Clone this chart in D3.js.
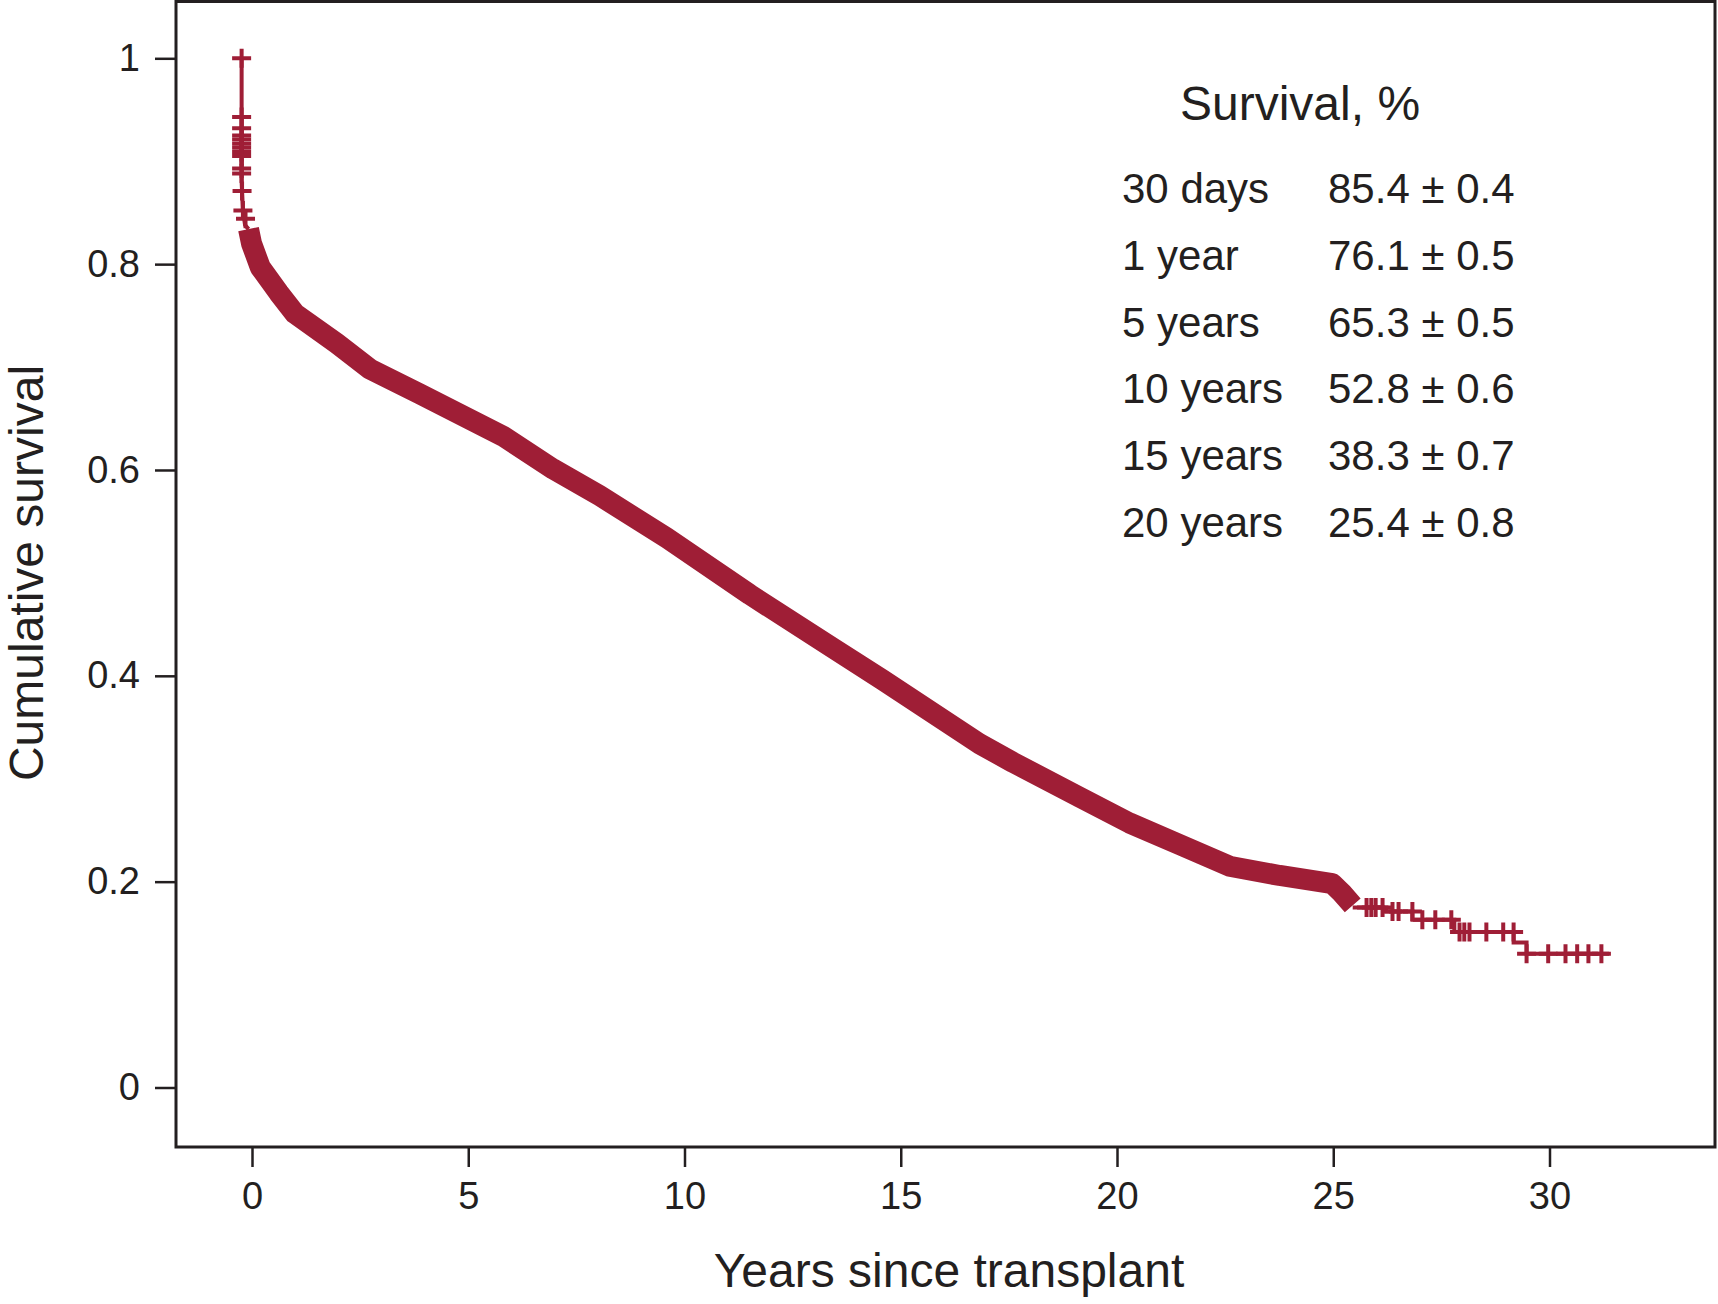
<!DOCTYPE html>
<html>
<head>
<meta charset="utf-8">
<script src="https://cdn.jsdelivr.net/npm/d3@7"></script>
<style>
  body { margin: 0; background: #fff; }
  text { font-family: "Liberation Sans", Arial, Helvetica, sans-serif; fill: #231f20; }
  .axis line { stroke: #231f20; stroke-width: 2.5; }
  .axis path { display: none; }
  .axis text { font-size: 38px; }
</style>
</head>
<body>
<script>
const width = 1718, height = 1304;
const frame = {left: 176, right: 1715, top: 1.5, bottom: 1147};
const curveColor = "#9f1e36";

// x / y ticks
const xTicks = [0, 5, 10, 15, 20, 25, 30];
const yTicks = [0, 0.2, 0.4, 0.6, 0.8, 1];
const yTickLabels = ["0", "0.2", "0.4", "0.6", "0.8", "1"];

// first deaths right after transplant (thin line)
const earlyYears = [-0.24, -0.24, -0.21, -0.16, -0.08];
const earlySurv = [1.0, 0.88, 0.852, 0.838, 0.834];

// dense part of the curve (censor marks merge into a thick band)
const bandYears = [-0.08, -0.01, 0.19, 0.62, 0.99, 1.96, 2.73, 3.88, 5.80, 6.96, 8.04, 9.59, 11.51, 13.43, 14.58, 16.82, 17.59, 19.14, 20.29, 21.45, 22.60, 23.76, 24.98, 25.2, 25.45];
const bandSurv = [0.834, 0.820, 0.797, 0.772, 0.752, 0.723, 0.698, 0.674, 0.633, 0.601, 0.575, 0.534, 0.479, 0.427, 0.396, 0.334, 0.316, 0.282, 0.257, 0.236, 0.215, 0.206, 0.198, 0.189, 0.177];

// late steps
const tailYears = [25.45, 26.23, 26.83, 27.80, 29.17, 29.47, 31.38];
const tailSurv = [0.175, 0.171, 0.163, 0.151, 0.141, 0.130, 0.130];

// censoring marks
const censorYears = [-0.24, -0.24, -0.24, -0.24, -0.24, -0.24, -0.24, -0.24, -0.24, -0.24, -0.24, -0.23, -0.21, -0.15,
  25.77, 25.88, 25.98, 26.14, 26.37, 26.51, 26.83, 27.06, 27.36, 27.73,
  27.92, 28.03, 28.15, 28.54, 28.93, 29.17, 29.47, 29.97, 30.37, 30.64, 30.90, 31.20];
const censorSurv = [1.0, 0.943, 0.932, 0.925, 0.921, 0.917, 0.913, 0.909, 0.905, 0.893, 0.888, 0.871, 0.852, 0.844,
  0.175, 0.175, 0.175, 0.175, 0.171, 0.171, 0.171, 0.163, 0.163, 0.163,
  0.151, 0.151, 0.151, 0.151, 0.151, 0.151, 0.130, 0.130, 0.130, 0.130, 0.130, 0.130];

// survival table
const tableLabels = ["30 days", "1 year", "5 years", "10 years", "15 years", "20 years"];
const tableValues = ["85.4 \u00b1 0.4", "76.1 \u00b1 0.5", "65.3 \u00b1 0.5", "52.8 \u00b1 0.6", "38.3 \u00b1 0.7", "25.4 \u00b1 0.8"];

const svg = d3.select("body").append("svg")
.attr("width", width)
.attr("height", height);

const x = d3.scaleLinear()
.domain([0, 30])
.range([252, 1549.5]);

const y = d3.scaleLinear()
.domain([0, 1])
.range([1087.5, 58.3]);

svg.append("rect")
.attr("x", frame.left)
.attr("y", frame.top)
.attr("width", frame.right - frame.left)
.attr("height", frame.bottom - frame.top)
.attr("fill", "none")
.attr("stroke", "#231f20")
.attr("stroke-width", 3);

svg.append("g")
.attr("class", "axis")
.attr("transform", `translate(${frame.left}, 0)`)
.call(d3.axisLeft(y).tickValues(yTicks).tickSize(21).tickPadding(15)
  .tickFormat((d, i) => yTickLabels[i]));

svg.append("g")
.attr("class", "axis")
.attr("transform", `translate(0, ${frame.bottom})`)
.call(d3.axisBottom(x).tickValues(xTicks).tickSize(20).tickPadding(15).tickFormat(d3.format("d")));

svg.append("text")
.attr("x", 949)
.attr("y", 1287)
.attr("text-anchor", "middle")
.attr("font-size", 48)
.text("Years since transplant");

svg.append("text")
.attr("transform", "translate(43, 573) rotate(-90)")
.attr("text-anchor", "middle")
.attr("font-size", 48)
.text("Cumulative survival");

const line = d3.line()
.x(d => x(d[0]))
.y(d => y(d[1]));

const g = svg.append("g");

g.append("path")
.attr("d", line(d3.zip(earlyYears, earlySurv)))
.attr("fill", "none")
.attr("stroke", curveColor)
.attr("stroke-width", 4);

g.append("path")
.attr("d", line(d3.zip(bandYears, bandSurv)))
.attr("fill", "none")
.attr("stroke", curveColor)
.attr("stroke-width", 21)
.attr("stroke-linejoin", "round");

g.append("path")
.attr("d", line.curve(d3.curveStepAfter)(d3.zip(tailYears, tailSurv)))
.attr("fill", "none")
.attr("stroke", curveColor)
.attr("stroke-width", 4);

g.selectAll(".mark")
.data(d3.zip(censorYears, censorSurv))
.enter()
.append("path")
.attr("class", "mark")
.attr("d", d => `M${x(d[0]) - 9.5},${y(d[1])}h19M${x(d[0])},${y(d[1]) - 9.5}v19`)
.attr("stroke", curveColor)
.attr("stroke-width", 4)
.attr("fill", "none");

// table
svg.append("text")
.attr("x", 1180)
.attr("y", 120)
.attr("font-size", 48)
.text("Survival, %");

svg.selectAll(".row-label")
.data(tableLabels)
.enter()
.append("text")
.attr("class", "row-label")
.attr("x", 1122)
.attr("y", (d, i) => 203 + i * 66.8)
.attr("font-size", 42)
.text(d => d);

svg.selectAll(".row-value")
.data(tableValues)
.enter()
.append("text")
.attr("class", "row-value")
.attr("x", 1328)
.attr("y", (d, i) => 203 + i * 66.8)
.attr("font-size", 42)
.text(d => d);
</script>
</body>
</html>
